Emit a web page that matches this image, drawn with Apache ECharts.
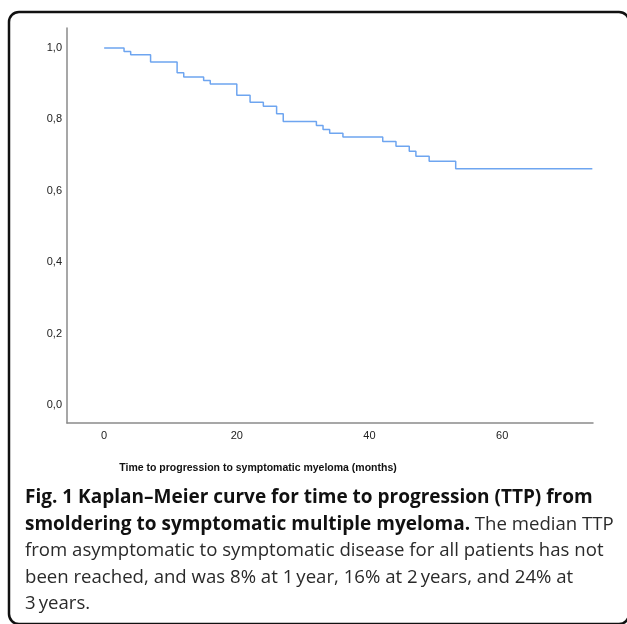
<!DOCTYPE html>
<html>
<head>
<meta charset="utf-8">
<script src="https://cdn.jsdelivr.net/npm/echarts@6/dist/echarts.min.js"></script>
<style>
  html, body { margin: 0; padding: 0; background: #fff; }
  #chart { width: 627px; height: 624px; }
</style>
</head>
<body>
<div id="chart"></div>
<script>
// Kaplan-Meier step points (months, survival)
const times = [0, 3, 4, 7, 11, 12, 15, 16, 20, 22, 24, 26, 27, 32, 33, 34, 36, 42, 44, 46, 47, 49, 53, 73.6];
const survival = [1.0, 0.990, 0.981, 0.961, 0.931, 0.919, 0.909, 0.899, 0.868, 0.848, 0.837, 0.816, 0.794,
  0.783, 0.772, 0.761, 0.751, 0.738, 0.725, 0.711, 0.697, 0.683, 0.662, 0.662];
const xTicks = [0, 20, 40, 60];
const yTicks = [0, 0.2, 0.4, 0.6, 0.8, 1.0];

const xTitle = 'Time to progression to symptomatic myeloma (months)';
const captionLines = [
  [{ t: 'Fig. 1 Kaplan–Meier curve for time to progression (TTP) from', b: true }],
  [{ t: 'smoldering to symptomatic multiple myeloma.', b: true }, { t: ' The median TTP', b: false }],
  [{ t: 'from asymptomatic to symptomatic disease for all patients has not', b: false }],
  [{ t: 'been reached, and was 8% at 1\u2009year, 16% at 2\u2009years, and 24% at', b: false }],
  [{ t: '3\u2009years.', b: false }]
];

const chart = echarts.init(document.getElementById('chart'));

const captionGraphics = captionLines.map((parts, i) => ({
  type: 'text',
  x: 25,
  y: 498 + i * 26.5,
  style: {
    text: parts.map(p => `{${p.b ? 'b' : 'n'}|${p.t}}`).join(''),
    verticalAlign: 'middle',
    rich: {
      b: { fontFamily: 'Open Sans', fontSize: 19, fontWeight: 'bold', fill: '#111' },
      n: { fontFamily: 'Open Sans', fontSize: 18.6, fontWeight: 'normal', fill: '#2a2a2a' }
    }
  }
}));

chart.setOption({
  animation: false,
  grid: { left: 67, right: 34, top: 28, bottom: 201 },
  xAxis: {
    type: 'value',
    min: -5.6,
    max: 73.7,
    axisLine: { show: true, onZero: false, lineStyle: { color: '#8a8a8a', width: 1.5 } },
    axisTick: { show: false },
    splitLine: { show: false },
    axisLabel: {
      customValues: xTicks,
      margin: 7,
      fontFamily: 'Liberation Sans',
      fontSize: 11,
      color: '#222'
    }
  },
  yAxis: {
    type: 'value',
    min: -0.05,
    max: 1.056,
    axisLine: { show: true, onZero: false, lineStyle: { color: '#8a8a8a', width: 1.5 } },
    axisTick: { show: false },
    splitLine: { show: false },
    axisLabel: {
      customValues: yTicks,
      margin: 5,
      fontFamily: 'Liberation Sans',
      fontSize: 11,
      color: '#222',
      formatter: v => v.toFixed(1).replace('.', ',')
    }
  },
  series: [{
    type: 'line',
    step: 'end',
    symbol: 'none',
    data: times.map((t, i) => [t, survival[i]]),
    lineStyle: { color: '#6ea5f0', width: 1.5 }
  }],
  graphic: [
    {
      type: 'rect',
      shape: { x: 9, y: 12, width: 620, height: 612, r: 10 },
      style: { fill: 'none', stroke: '#111', lineWidth: 2.5 }
    },
    {
      type: 'text',
      x: 258,
      y: 468,
      style: {
        text: xTitle,
        align: 'center',
        verticalAlign: 'middle',
        fontFamily: 'Liberation Sans',
        fontSize: 10.5,
        fontWeight: 'bold',
        fill: '#111'
      }
    },
    ...captionGraphics
  ]
});
</script>
</body>
</html>
